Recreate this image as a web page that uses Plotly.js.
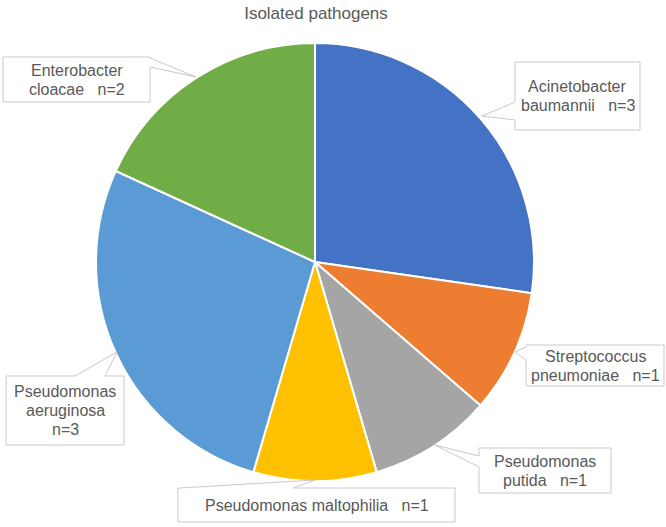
<!DOCTYPE html>
<html>
<head>
<meta charset="utf-8">
<script src="https://cdn.plot.ly/plotly-3.0.1.min.js"></script>
<style>html,body{margin:0;padding:0;background:#fff;}#chart{width:666px;height:527px;}</style>
</head>
<body>
<div id="chart"></div>
<script>
// Data
const labels = ['Acinetobacter baumannii', 'Streptococcus pneumoniae', 'Pseudomonas putida', 'Pseudomonas maltophilia', 'Pseudomonas aeruginosa', 'Enterobacter cloacae'];
const counts = [3, 1, 1, 1, 3, 2];
const nameLines = [['Acinetobacter', 'baumannii'], ['Streptococcus', 'pneumoniae'], ['Pseudomonas', 'putida'], ['Pseudomonas maltophilia'], ['Pseudomonas', 'aeruginosa'], ['Enterobacter', 'cloacae']];
const countOwnLine = [false, false, false, false, true, false];
const colors = ['#4472C4', '#ED7D31', '#A5A5A5', '#FFC000', '#5B9BD5', '#70AD47'];

// Layout helpers (pixel -> paper)
const W = 666, H = 527;
const px = x => x / W;
const py = y => 1 - y / H;

// Callout boxes: [x0, y0, x1, y1], pointer side, base range, tip
const callouts = [
  {box: [515, 62, 640, 130], side: 'left', base: [102, 120], tip: [482, 116]},
  {box: [526, 345, 664, 386], side: 'left', base: [347, 360], tip: [515, 352]},
  {box: [479, 448, 611, 493], side: 'left', base: [456, 467], tip: [435, 445]},
  {box: [178, 488, 455, 522], side: 'top', base: [180, 293], tip: [315, 480]},
  {box: [6, 376, 124, 445], side: 'top', base: [75, 105], tip: [117, 352]},
  {box: [3, 57, 150, 102], side: 'right', base: [58, 67], tip: [196, 77]}
];

function calloutPath(c) {
  const [x0, y0, x1, y1] = c.box;
  const [b1, b2] = c.base;
  const [tx, ty] = c.tip;
  const pts = [[x0, y0]];
  if (c.side === 'top') { pts.push([b1, y0], [tx, ty], [b2, y0]); }
  pts.push([x1, y0]);
  if (c.side === 'right') { pts.push([x1, b1], [tx, ty], [x1, b2]); }
  pts.push([x1, y1], [x0, y1]);
  if (c.side === 'left') { pts.push([x0, b2], [tx, ty], [x0, b1]); }
  return 'M' + pts.map(p => px(p[0]).toFixed(5) + ',' + py(p[1]).toFixed(5)).join(' L') + ' Z';
}

const shapes = callouts.map(c => ({
  type: 'path', xref: 'paper', yref: 'paper', path: calloutPath(c),
  fillcolor: '#FFFFFF', line: {color: '#C9C9C9', width: 1}, layer: 'above'
}));

const FONT = '"Liberation Sans", Arial, Helvetica, sans-serif';
const LINE_H = 19;
const annotations = [];
callouts.forEach((c, i) => {
  const lines = nameLines[i].slice();
  const nTxt = 'n=' + counts[i];
  if (countOwnLine[i]) lines.push(nTxt);
  else lines[lines.length - 1] = lines[lines.length - 1] + '\u00a0\u00a0\u00a0' + nTxt;
  const cx = (c.box[0] + c.box[2]) / 2;
  const cy = (c.box[1] + c.box[3]) / 2;
  lines.forEach((t, k) => {
    const yy = cy + (k - (lines.length - 1) / 2) * LINE_H;
    annotations.push({
      xref: 'paper', yref: 'paper', x: px(cx), y: py(yy),
      xanchor: 'center', yanchor: 'middle', showarrow: false,
      text: t, font: {family: FONT, size: 16, color: '#595959'}
    });
  });
});

const trace = {
  type: 'pie', labels: labels, values: counts, sort: false,
  direction: 'clockwise', rotation: 0,
  marker: {colors: colors, line: {color: '#FFFFFF', width: 2}},
  textinfo: 'none', hoverinfo: 'label+value',
  domain: {x: [px(96), px(534)], y: [py(481), py(43)]},
  showlegend: false
};

const layout = {
  width: W, height: H,
  margin: {l: 0, r: 0, t: 0, b: 0},
  paper_bgcolor: '#FFFFFF',
  title: {text: 'Isolated pathogens', x: px(316), xanchor: 'center', y: 1 - 13 / H, yanchor: 'middle',
          font: {family: FONT, size: 17, color: '#595959'}},
  shapes: shapes,
  annotations: annotations,
  showlegend: false
};

Plotly.newPlot('chart', [trace], layout, {displayModeBar: false, staticPlot: true});
</script>
</body>
</html>
